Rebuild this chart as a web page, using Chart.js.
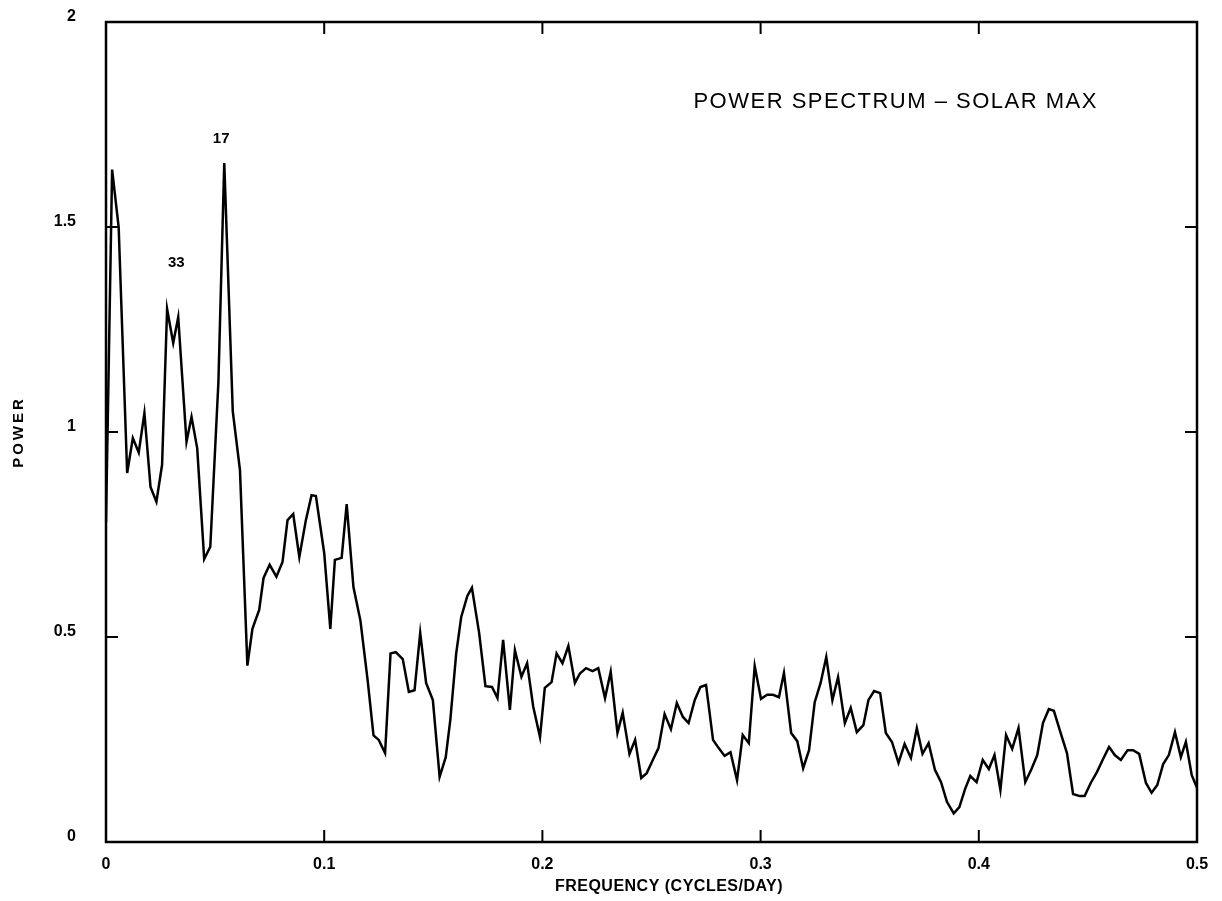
<!DOCTYPE html>
<html>
<head>
<meta charset="utf-8">
<script src="https://cdn.jsdelivr.net/npm/chart.js@4"></script>
<style>
  html, body { margin: 0; padding: 0; background: #fff; }
  #wrap { width: 1222px; height: 901px; }
</style>
</head>
<body>
<div id="wrap"><canvas id="myChartPower"></canvas></div>
<script>
// frequency (cycles/day) and power
const freq = [
  0, 0.0028, 0.0058, 0.0097, 0.0123, 0.0150, 0.0176, 0.0204, 0.0231, 0.0257,
  0.0280, 0.0308, 0.0331, 0.0369, 0.0392, 0.0418, 0.0450, 0.0478, 0.0515, 0.0542,
  0.0556, 0.0581, 0.0614, 0.0648, 0.0671, 0.0702, 0.0722, 0.0750, 0.0781, 0.0809,
  0.0832, 0.0858, 0.0886, 0.0916, 0.0942, 0.0962, 0.1000, 0.1028, 0.1049, 0.1080,
  0.1103, 0.1134, 0.1166, 0.1199, 0.1226, 0.1250, 0.1279, 0.1304, 0.1328, 0.1360,
  0.1388, 0.1414, 0.1440, 0.1467, 0.1498, 0.1529, 0.1557, 0.1578, 0.1605, 0.1628,
  0.1656, 0.1677, 0.1710, 0.1739, 0.1769, 0.1794, 0.1820, 0.1851, 0.1874, 0.1904,
  0.1930, 0.1958, 0.1989, 0.2011, 0.2042, 0.2065, 0.2092, 0.2119, 0.2149, 0.2172,
  0.2200, 0.2230, 0.2256, 0.2287, 0.2313, 0.2344, 0.2368, 0.2399, 0.2425, 0.2453,
  0.2478, 0.2506, 0.2532, 0.2560, 0.2589, 0.2616, 0.2644, 0.2670, 0.2698, 0.2724,
  0.2750, 0.2782, 0.2808, 0.2835, 0.2862, 0.2892, 0.2918, 0.2946, 0.2973, 0.3002,
  0.3030, 0.3057, 0.3084, 0.3107, 0.3140, 0.3168, 0.3195, 0.3222, 0.3248, 0.3275,
  0.3301, 0.3329, 0.3355, 0.3386, 0.3413, 0.3441, 0.3471, 0.3494, 0.3520, 0.3548,
  0.3574, 0.3602, 0.3632, 0.3660, 0.3689, 0.3716, 0.3742, 0.3770, 0.3799, 0.3827,
  0.3854, 0.3885, 0.3911, 0.3937, 0.3961, 0.3990, 0.4018, 0.4046, 0.4072, 0.4099,
  0.4125, 0.4153, 0.4182, 0.4213, 0.4240, 0.4268, 0.4294, 0.4321, 0.4344, 0.4375,
  0.4404, 0.4432, 0.4462, 0.4485, 0.4513, 0.4542, 0.4569, 0.4597, 0.4623, 0.4651,
  0.4682, 0.4707, 0.4735, 0.4766, 0.4792, 0.4818, 0.4845, 0.4871, 0.4899, 0.4926,
  0.4949, 0.4976, 0.5000
]
const power = [
  0.78, 1.64, 1.50, 0.90, 0.985, 0.95, 1.046, 0.866, 0.83, 0.92,
  1.30, 1.217, 1.28, 0.976, 1.037, 0.96, 0.69, 0.72, 1.12, 1.656,
  1.44, 1.05, 0.907, 0.43, 0.52, 0.566, 0.644, 0.676, 0.647, 0.683,
  0.785, 0.80, 0.695, 0.785, 0.846, 0.844, 0.705, 0.52, 0.688, 0.693,
  0.824, 0.622, 0.54, 0.395, 0.26, 0.249, 0.217, 0.46, 0.463, 0.446,
  0.366, 0.37, 0.51, 0.388, 0.346, 0.159, 0.207, 0.298, 0.46, 0.549,
  0.60, 0.62, 0.51, 0.38, 0.378, 0.351, 0.493, 0.322, 0.468, 0.403,
  0.436, 0.33, 0.256, 0.376, 0.39, 0.46, 0.436, 0.478, 0.388, 0.411,
  0.424, 0.417, 0.424, 0.351, 0.415, 0.266, 0.315, 0.215, 0.249, 0.156,
  0.168, 0.20, 0.229, 0.312, 0.275, 0.339, 0.305, 0.29, 0.346, 0.378,
  0.383, 0.249, 0.229, 0.21, 0.219, 0.151, 0.261, 0.241, 0.429, 0.349,
  0.359, 0.359, 0.353, 0.412, 0.266, 0.246, 0.18, 0.224, 0.341, 0.388,
  0.451, 0.346, 0.402, 0.29, 0.327, 0.268, 0.285, 0.346, 0.368, 0.363,
  0.266, 0.244, 0.193, 0.239, 0.205, 0.278, 0.215, 0.241, 0.176, 0.146,
  0.098, 0.07, 0.085, 0.129, 0.161, 0.146, 0.20, 0.178, 0.212, 0.127,
  0.261, 0.227, 0.278, 0.146, 0.176, 0.212, 0.29, 0.324, 0.32, 0.266,
  0.217, 0.117, 0.112, 0.112, 0.144, 0.171, 0.202, 0.232, 0.212, 0.20,
  0.224, 0.224, 0.215, 0.144, 0.12, 0.139, 0.19, 0.212, 0.268, 0.207,
  0.244, 0.163, 0.132
]

const xTicks = [0, 0.1, 0.2, 0.3, 0.4, 0.5]
const xTickLabels = ['0', '0.1', '0.2', '0.3', '0.4', '0.5']
const yTicks = [0, 0.5, 1, 1.5, 2]
const yTickLabels = ['0', '0.5', '1', '1.5', '2']

// period labels over the peaks (days)
const peakLabels = ['17', '33']
const peakX = [0.0528, 0.0322]
const peakY = [1.715, 1.412]

const chartTitle = 'POWER SPECTRUM \u2013 SOLAR MAX'
const titleX = 0.3619
const titleY = 1.805
const xTitle = 'FREQUENCY (CYCLES/DAY)'
const yTitle = 'POWER'

const FONT = '"Liberation Sans", Arial, sans-serif'
const ctxPower = document.getElementById('myChartPower')

// box round the plot, inward ticks on all four sides, and the texts
const framePlugin = {
  id: 'frame',
  afterDraw(chart) {
    const ctx = chart.ctx
    const area = chart.chartArea
    const sx = chart.scales.x
    const sy = chart.scales.y
    ctx.save()
    ctx.strokeStyle = '#000'
    ctx.lineWidth = 2.5
    ctx.strokeRect(area.left, area.top, area.right - area.left, area.bottom - area.top)

    ctx.lineWidth = 2
    const len = 12
    ctx.beginPath()
    for (let v of xTicks) {
      if (v === xTicks[0] || v === xTicks[xTicks.length - 1]) continue
      const px = sx.getPixelForValue(v)
      ctx.moveTo(px, area.bottom); ctx.lineTo(px, area.bottom - len)
      ctx.moveTo(px, area.top); ctx.lineTo(px, area.top + len)
    }
    for (let v of yTicks) {
      if (v === yTicks[0] || v === yTicks[yTicks.length - 1]) continue
      const py = sy.getPixelForValue(v)
      ctx.moveTo(area.left, py); ctx.lineTo(area.left + len, py)
      ctx.moveTo(area.right, py); ctx.lineTo(area.right - len, py)
    }
    ctx.stroke()

    ctx.fillStyle = '#000'
    ctx.textAlign = 'center'
    ctx.textBaseline = 'middle'
    ctx.font = 'bold 15px ' + FONT
    for (let i = 0; i < peakLabels.length; i++) {
      ctx.fillText(peakLabels[i], sx.getPixelForValue(peakX[i]), sy.getPixelForValue(peakY[i]))
    }

    ctx.font = '22px ' + FONT
    ctx.letterSpacing = '1.5px'
    ctx.fillText(chartTitle, sx.getPixelForValue(titleX), sy.getPixelForValue(titleY))

    // axis titles
    ctx.font = 'bold 16px ' + FONT
    ctx.letterSpacing = '0.5px'
    ctx.fillText(xTitle, 669, 887)

    ctx.font = 'bold 15px ' + FONT
    ctx.letterSpacing = '3px'
    ctx.translate(19, (area.top + area.bottom) / 2)
    ctx.rotate(-Math.PI / 2)
    ctx.fillText(yTitle, 0, 0)
    ctx.restore()
  }
}

new Chart(ctxPower, {
  type: 'scatter',
  data: {
    datasets: [{
      label: 'Power',
      data: freq.map((f, i) => ({ x: f, y: power[i] })),
      showLine: true,
      borderColor: '#000',
      borderWidth: 2.5,
      pointRadius: 0,
      tension: 0
    }]
  },
  plugins: [framePlugin],
  options: {
    responsive: true,
    maintainAspectRatio: false,
    animation: false,
    layout: {
      padding: { left: 0, top: 22, right: 25, bottom: 0 }
    },
    plugins: {
      legend: { display: false },
      tooltip: { enabled: false }
    },
    scales: {
      x: {
        type: 'linear',
        min: 0,
        max: 0.5,
        afterBuildTicks: (scale) => { scale.ticks = xTicks.map(v => ({ value: v })) },
        afterFit: (scale) => {
          scale.height = 59
          scale.paddingLeft = 0
          scale.paddingRight = 0
        },
        grid: { display: false },
        border: { display: false },
        ticks: {
          padding: 5,
          maxRotation: 0,
          autoSkip: false,
          color: '#000',
          font: { family: FONT, size: 16, weight: 'bold' },
          callback: (v) => xTickLabels[xTicks.indexOf(v)]
        },
        title: { display: false }
      },
      y: {
        min: 0,
        max: 2,
        afterBuildTicks: (scale) => { scale.ticks = yTicks.map(v => ({ value: v })) },
        afterFit: (scale) => {
          scale.width = 106
          scale.paddingTop = 0
          scale.paddingBottom = 0
        },
        grid: { display: false },
        border: { display: false },
        ticks: {
          padding: 22,
          labelOffset: -5,
          autoSkip: false,
          color: '#000',
          font: { family: FONT, size: 16, weight: 'bold' },
          callback: (v) => yTickLabels[yTicks.indexOf(v)]
        },
        title: { display: false }
      }
    }
  }
});
</script>
</body>
</html>
